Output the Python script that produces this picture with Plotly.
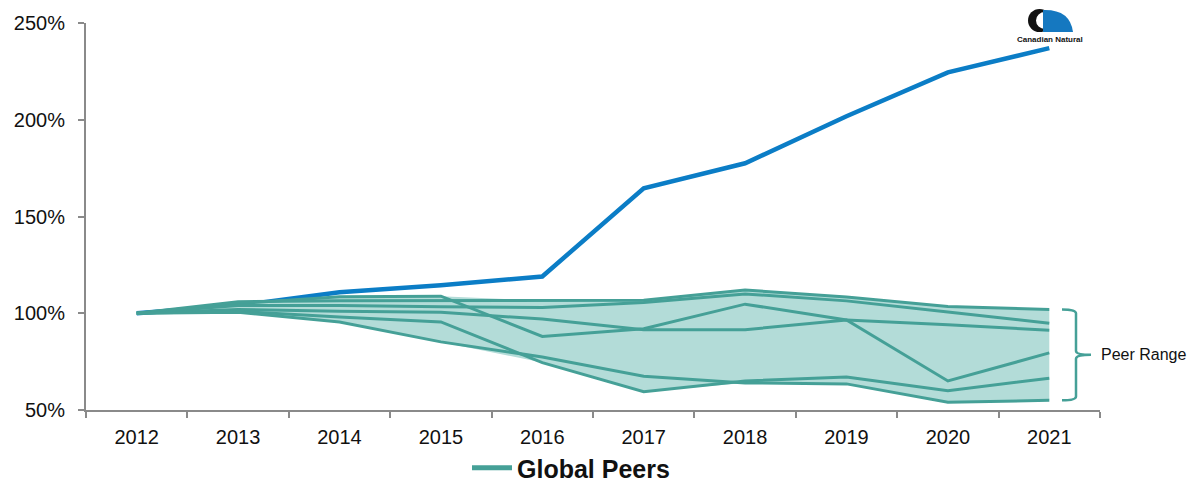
import numpy as np
import plotly.graph_objects as go

years = ["2012", "2013", "2014", "2015", "2016", "2017", "2018", "2019", "2020", "2021"]

canadian_natural = [100, 104, 110.8, 114.5, 119, 164.6, 177.5, 201.8, 224.5, 237]

peer_1 = [100, 105, 108.5, 108.8, 88, 92, 104.7, 96.5, 65, 79.5]
peer_2 = [100, 106, 106.5, 106.5, 106.5, 106.7, 112, 108.4, 103.5, 102]
peer_3 = [100, 104, 104, 103.3, 103, 105.5, 110, 106.4, 100.7, 94.8]
peer_4 = [100, 102, 101, 100.5, 97, 91.5, 91.5, 96.5, 94, 91.2]
peer_5 = [100, 101, 98, 95.5, 74.5, 59.5, 65, 67, 60, 66.4]
peer_6 = [100, 100.5, 95.5, 85.2, 77.4, 67.5, 64, 63.5, 54, 55]

peers = [peer_1, peer_2, peer_3, peer_4, peer_5, peer_6]

y_ticks = [50, 100, 150, 200, 250]
y_tick_labels = ["50%", "100%", "150%", "200%", "250%"]

BLUE = "#0B7DC6"
TEAL = "#45A097"
FILL = "#B3DCD8"
AXIS = "#8A8A8A"
FONT = "Arial, Liberation Sans, sans-serif"

peer_arr = np.array(peers)
peer_max = peer_arr.max(axis=0)
peer_min = peer_arr.min(axis=0)

fig = go.Figure()

fig.add_trace(go.Scatter(x=years, y=canadian_natural, mode="lines",
                         line=dict(color=BLUE, width=4.5), showlegend=False,
                         hoverinfo="skip"))

# peer range band
fig.add_trace(go.Scatter(x=years, y=peer_min, mode="lines", line=dict(width=0),
                         showlegend=False, hoverinfo="skip"))
fig.add_trace(go.Scatter(x=years, y=peer_max, mode="lines", line=dict(width=0),
                         fill="tonexty", fillcolor=FILL, showlegend=False,
                         hoverinfo="skip"))

for p in peers:
    fig.add_trace(go.Scatter(x=years, y=p, mode="lines",
                             line=dict(color=TEAL, width=3),
                             showlegend=False, hoverinfo="skip"))

# legend entry
fig.add_trace(go.Scatter(x=[None], y=[None], mode="lines", name="Global Peers",
                         line=dict(color=TEAL, width=5), showlegend=True))

L, R, T, B = 86, 96, 23, 73
W, H = 1196, 483
pw, ph = W - L - R, H - T - B


def px(x):
    return (x - L) / pw


def py(y):
    return (H - B - y) / ph


# Peer range bracket (x in paper, y in data)
x_left, x_stem, x_tip = px(1062), px(1076), px(1091)
top, bot = peer_max[-1], peer_min[-1]
mid = (top + bot) / 2
c = 2.0
brace = (f"M {x_left},{top} Q {x_stem},{top} {x_stem},{top - c} "
         f"L {x_stem},{mid + c} Q {x_stem},{mid} {x_tip},{mid} "
         f"Q {x_stem},{mid} {x_stem},{mid - c} "
         f"L {x_stem},{bot + c} Q {x_stem},{bot} {x_left},{bot}")
fig.add_shape(type="path", path=brace, xref="paper", yref="y",
              line=dict(color=TEAL, width=2.5))
fig.add_annotation(x=px(1099), y=mid, xref="paper", yref="y", text="Peer Range",
                   showarrow=False, xanchor="left", yanchor="middle",
                   font=dict(family=FONT, size=16, color="#111"))

# Canadian Natural logo (approximation)
fig.add_shape(type="circle", xref="paper", yref="paper",
              x0=px(1028), x1=px(1051), y0=py(32), y1=py(9),
              fillcolor="#111", line=dict(width=0))
fig.add_shape(type="circle", xref="paper", yref="paper",
              x0=px(1036), x1=px(1054), y0=py(29), y1=py(12),
              fillcolor="white", line=dict(width=0))
logo_path = (f"M {px(1043)},{py(32)} L {px(1043)},{py(10)} "
             f"Q {px(1070)},{py(9)} {px(1073)},{py(32)} Z")
fig.add_shape(type="path", xref="paper", yref="paper", path=logo_path,
              fillcolor="#1578C0", line=dict(width=0))
fig.add_annotation(x=px(1050), y=py(39), xref="paper", yref="paper",
                   text="<b>Canadian Natural</b>", showarrow=False,
                   xanchor="center", yanchor="middle",
                   font=dict(family=FONT, size=8, color="#111"))

fig.update_xaxes(type="category", range=[-0.5, 9.5], tickson="boundaries",
                 ticks="outside", ticklen=6, tickwidth=1.5, tickcolor=AXIS,
                 showline=True, linecolor=AXIS, linewidth=2, showgrid=False,
                 tickfont=dict(family=FONT, size=20, color="#111"),
                 ticklabelstandoff=8, zeroline=False)
fig.update_yaxes(range=[50, 250], tickmode="array", tickvals=y_ticks,
                 ticktext=y_tick_labels,
                 ticks="outside", ticklen=6, tickwidth=1.5, tickcolor=AXIS,
                 showline=True, linecolor=AXIS, linewidth=2, showgrid=False,
                 tickfont=dict(family=FONT, size=20, color="#111"),
                 ticklabelstandoff=9, zeroline=False)

fig.update_layout(
    width=W, height=H,
    margin=dict(l=L, r=R, t=T, b=B, pad=0, autoexpand=False),
    paper_bgcolor="white", plot_bgcolor="white",
    showlegend=True,
    legend=dict(orientation="h", x=px(571), xanchor="center", y=py(468),
                yanchor="middle", font=dict(family=FONT, size=25, color="#111"),
                itemwidth=40, bgcolor="rgba(0,0,0,0)"),
    font=dict(family=FONT),
)
fig.update_layout(legend_font_weight="bold")

fig.write_html("out.html")
